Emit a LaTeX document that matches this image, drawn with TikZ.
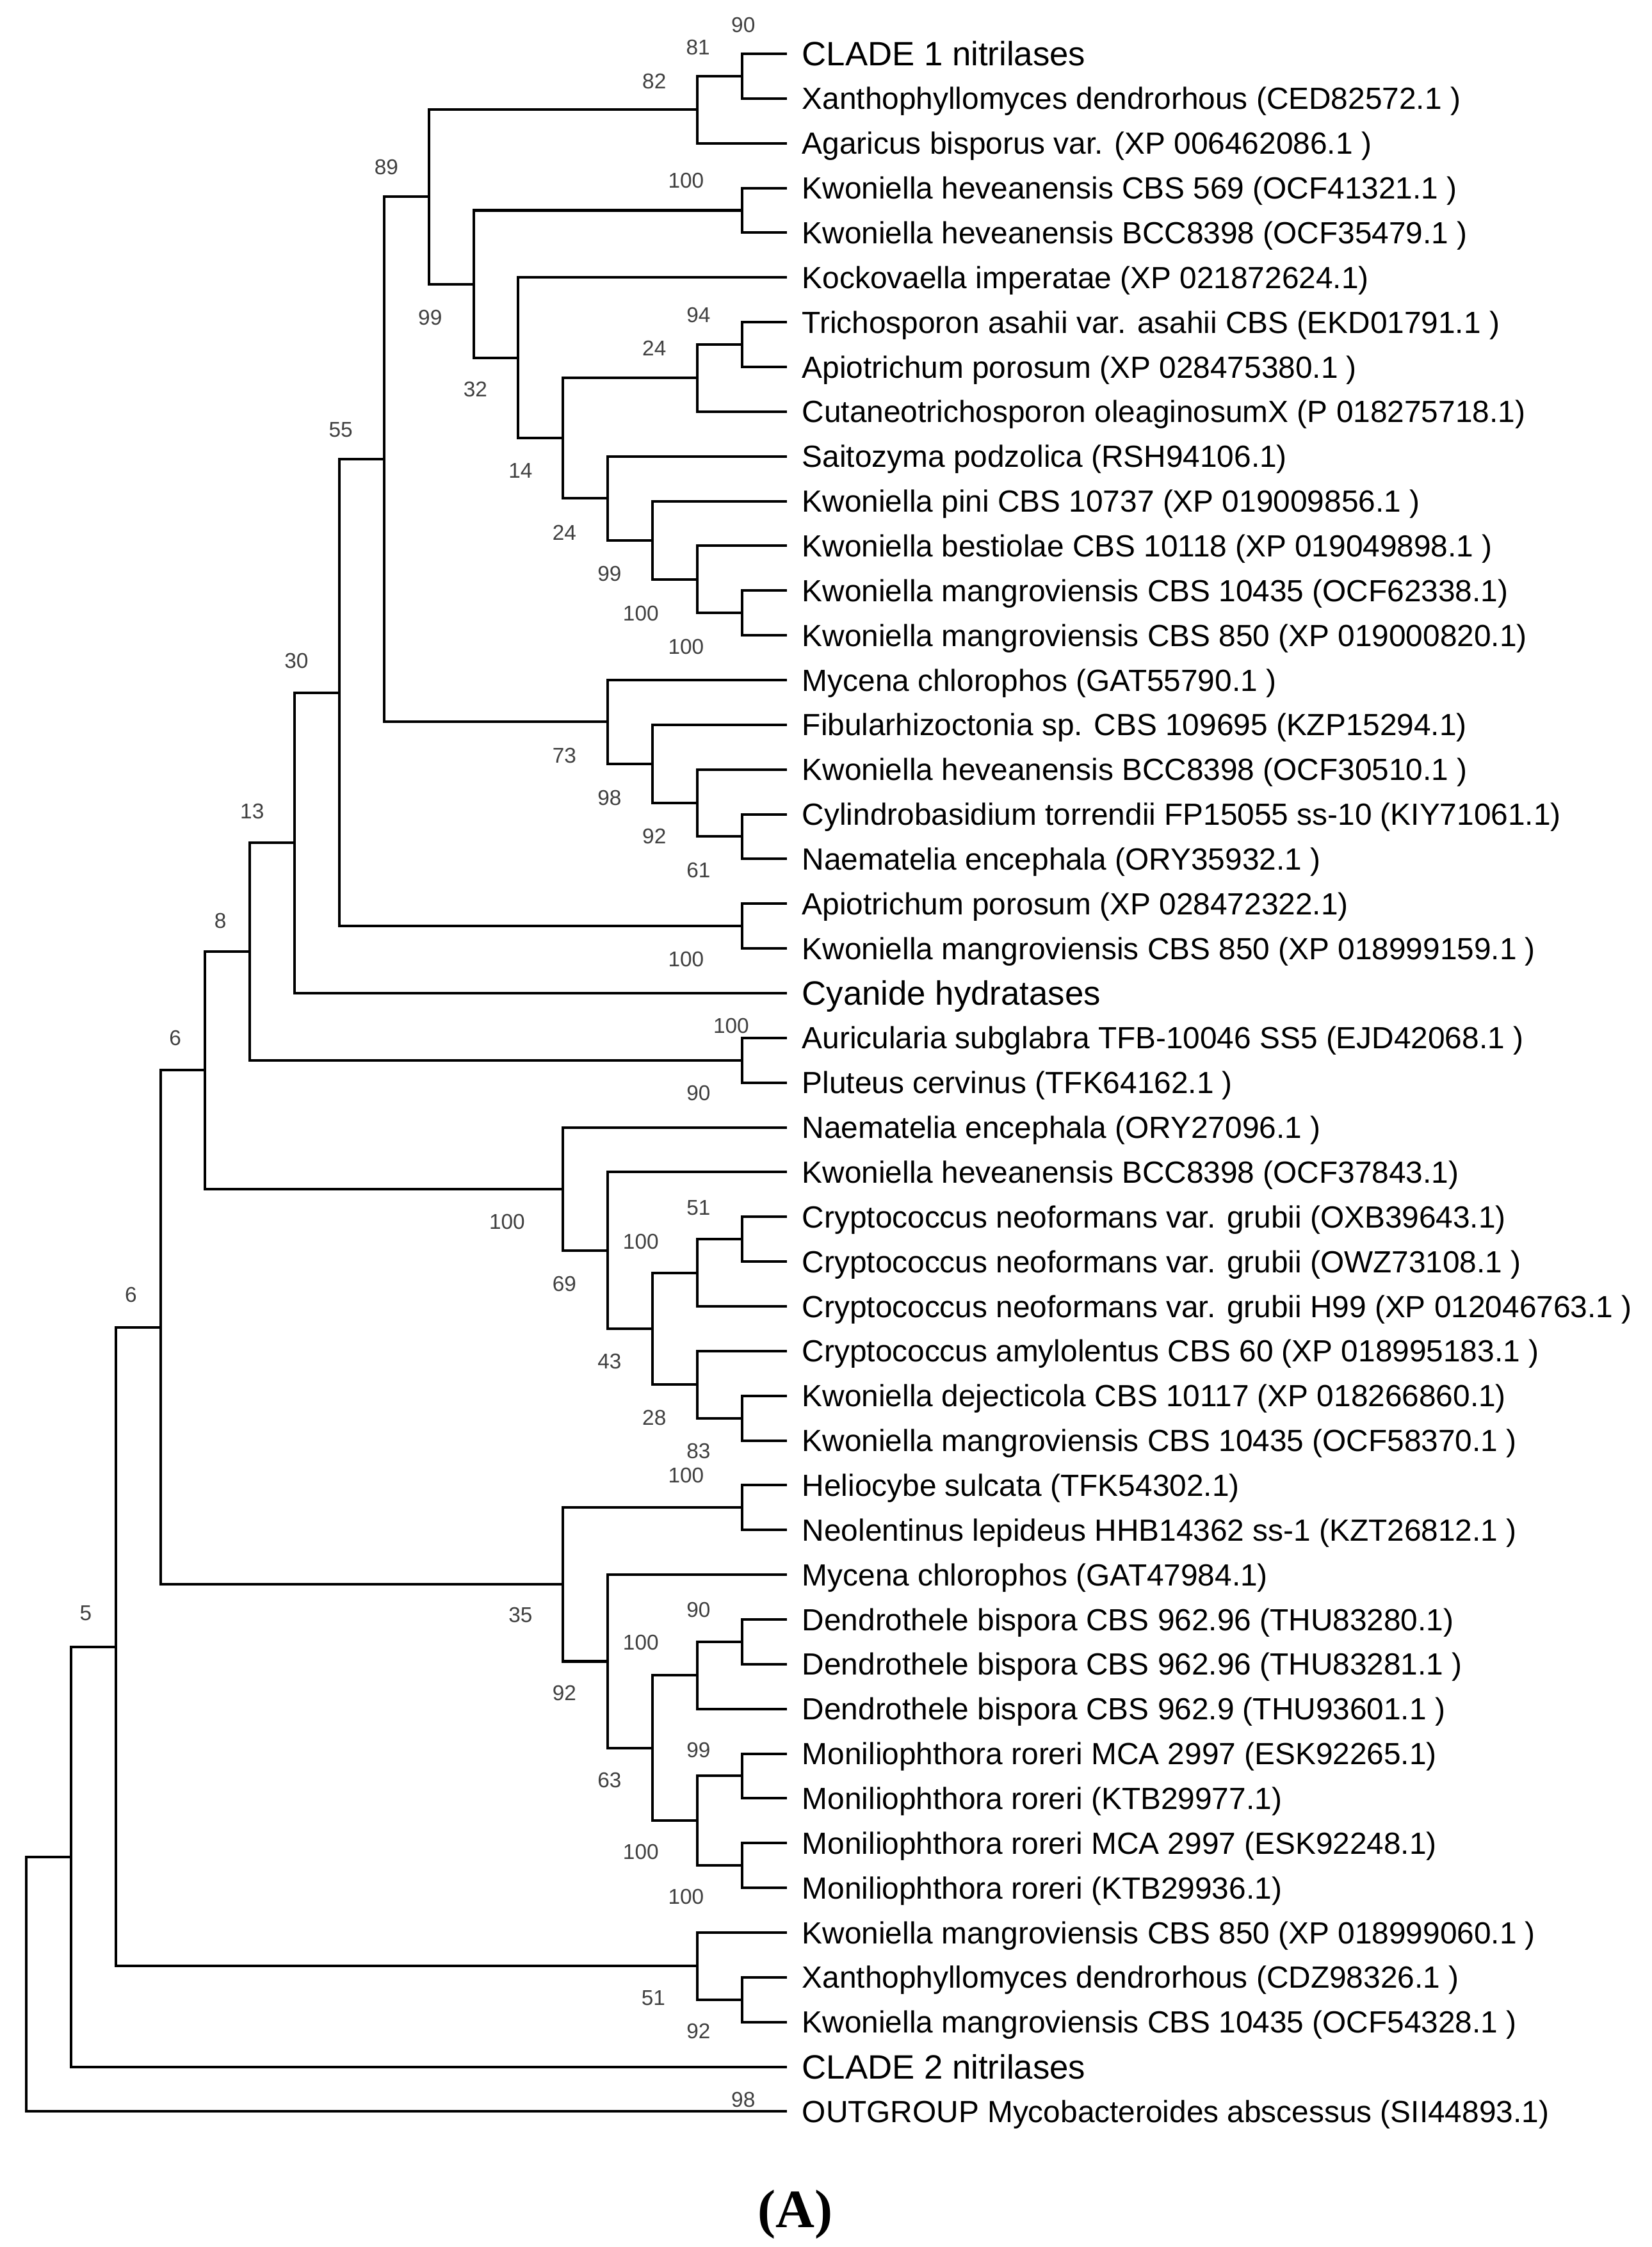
\documentclass[tikz,border=0pt]{standalone}
\usepackage{fontspec}
\setmainfont{Liberation Sans}
\newfontfamily\capfont{Liberation Serif}
\definecolor{BootGray}{HTML}{404040}

\tikzset{
  branch/.style={line width=1.15pt},
  leaf/.style={anchor=west, inner xsep=6.9pt, inner ysep=0pt, outer sep=0pt,
    text height=9.74pt, text depth=0pt, font=\fontsize{13.6}{16}\selectfont},
  group/.style={leaf, text height=10.74pt, font=\fontsize{15}{18}\selectfont},
  boot/.style={inner sep=0pt, text=BootGray, font=\fontsize{9.5}{11}\selectfont}
}

\begin{document}
\begin{tikzpicture}[x=6.985mm, y=-6.985mm]
  \path[use as bounding box, fill=white] (-0.587,-1.2026) rectangle (36.335,49.03);

  % leaves
  \node[group] (L0) at (17,0) {CLADE 1 nitrilases};
  \node[leaf] (L1) at (17,1) {Xanthophyllomyces dendrorhous (CED82572.1 )};
  \node[leaf] (L2) at (17,2) {Agaricus bisporus var. (XP 006462086.1 )};
  \node[leaf] (L3) at (17,3) {Kwoniella heveanensis CBS 569 (OCF41321.1 )};
  \node[leaf] (L4) at (17,4) {Kwoniella heveanensis BCC8398 (OCF35479.1 )};
  \node[leaf] (L5) at (17,5) {Kockovaella imperatae (XP 021872624.1)};
  \node[leaf] (L6) at (17,6) {Trichosporon asahii var. asahii CBS (EKD01791.1 )};
  \node[leaf] (L7) at (17,7) {Apiotrichum porosum (XP 028475380.1 )};
  \node[leaf] (L8) at (17,8) {Cutaneotrichosporon oleaginosumX (P 018275718.1)};
  \node[leaf] (L9) at (17,9) {Saitozyma podzolica (RSH94106.1)};
  \node[leaf] (L10) at (17,10) {Kwoniella pini CBS 10737 (XP 019009856.1 )};
  \node[leaf] (L11) at (17,11) {Kwoniella bestiolae CBS 10118 (XP 019049898.1 )};
  \node[leaf] (L12) at (17,12) {Kwoniella mangroviensis CBS 10435 (OCF62338.1)};
  \node[leaf] (L13) at (17,13) {Kwoniella mangroviensis CBS 850 (XP 019000820.1)};
  \node[leaf] (L14) at (17,14) {Mycena chlorophos (GAT55790.1 )};
  \node[leaf] (L15) at (17,15) {Fibularhizoctonia sp. CBS 109695 (KZP15294.1)};
  \node[leaf] (L16) at (17,16) {Kwoniella heveanensis BCC8398 (OCF30510.1 )};
  \node[leaf] (L17) at (17,17) {Cylindrobasidium torrendii FP15055 ss-10 (KIY71061.1)};
  \node[leaf] (L18) at (17,18) {Naematelia encephala (ORY35932.1 )};
  \node[leaf] (L19) at (17,19) {Apiotrichum porosum (XP 028472322.1)};
  \node[leaf] (L20) at (17,20) {Kwoniella mangroviensis CBS 850 (XP 018999159.1 )};
  \node[group] (L21) at (17,21) {Cyanide hydratases};
  \node[leaf] (L22) at (17,22) {Auricularia subglabra TFB-10046 SS5 (EJD42068.1 )};
  \node[leaf] (L23) at (17,23) {Pluteus cervinus (TFK64162.1 )};
  \node[leaf] (L24) at (17,24) {Naematelia encephala (ORY27096.1 )};
  \node[leaf] (L25) at (17,25) {Kwoniella heveanensis BCC8398 (OCF37843.1)};
  \node[leaf] (L26) at (17,26) {Cryptococcus neoformans var. grubii (OXB39643.1)};
  \node[leaf] (L27) at (17,27) {Cryptococcus neoformans var. grubii (OWZ73108.1 )};
  \node[leaf] (L28) at (17,28) {Cryptococcus neoformans var. grubii H99 (XP 012046763.1 )};
  \node[leaf] (L29) at (17,29) {Cryptococcus amylolentus CBS 60 (XP 018995183.1 )};
  \node[leaf] (L30) at (17,30) {Kwoniella dejecticola CBS 10117 (XP 018266860.1)};
  \node[leaf] (L31) at (17,31) {Kwoniella mangroviensis CBS 10435 (OCF58370.1 )};
  \node[leaf] (L32) at (17,32) {Heliocybe sulcata (TFK54302.1)};
  \node[leaf] (L33) at (17,33) {Neolentinus lepideus HHB14362 ss-1 (KZT26812.1 )};
  \node[leaf] (L34) at (17,34) {Mycena chlorophos (GAT47984.1)};
  \node[leaf] (L35) at (17,35) {Dendrothele bispora CBS 962.96 (THU83280.1)};
  \node[leaf] (L36) at (17,36) {Dendrothele bispora CBS 962.96 (THU83281.1 )};
  \node[leaf] (L37) at (17,37) {Dendrothele bispora CBS 962.9 (THU93601.1 )};
  \node[leaf] (L38) at (17,38) {Moniliophthora roreri MCA 2997 (ESK92265.1)};
  \node[leaf] (L39) at (17,39) {Moniliophthora roreri (KTB29977.1)};
  \node[leaf] (L40) at (17,40) {Moniliophthora roreri MCA 2997 (ESK92248.1)};
  \node[leaf] (L41) at (17,41) {Moniliophthora roreri (KTB29936.1)};
  \node[leaf] (L42) at (17,42) {Kwoniella mangroviensis CBS 850 (XP 018999060.1 )};
  \node[leaf] (L43) at (17,43) {Xanthophyllomyces dendrorhous (CDZ98326.1 )};
  \node[leaf] (L44) at (17,44) {Kwoniella mangroviensis CBS 10435 (OCF54328.1 )};
  \node[group] (L45) at (17,45) {CLADE 2 nitrilases};
  \node[leaf] (L46) at (17,46) {OUTGROUP Mycobacteroides abscessus (SII44893.1)};

  % inner nodes
  \coordinate (nA) at (16,0.5);
  \coordinate (nB) at (15,1.25);
  \coordinate (nC) at (16,3.5);
  \coordinate (nD) at (16,6.5);
  \coordinate (nE) at (15,7.25);
  \coordinate (nF) at (16,12.5);
  \coordinate (nG) at (15,11.75);
  \coordinate (nH) at (14,10.875);
  \coordinate (nI) at (13,9.9375);
  \coordinate (nJ) at (12,8.594);
  \coordinate (nK) at (11,6.797);
  \coordinate (nL) at (10,5.148);
  \coordinate (nM) at (9,3.199);
  \coordinate (nN) at (16,17.5);
  \coordinate (nO) at (15,16.75);
  \coordinate (nP) at (14,15.875);
  \coordinate (nQ) at (13,14.9375);
  \coordinate (nR) at (8,9.068);
  \coordinate (nS) at (16,19.5);
  \coordinate (nT) at (7,14.284);
  \coordinate (nU) at (6,17.642);
  \coordinate (nV) at (16,22.5);
  \coordinate (nW) at (5,20.071);
  \coordinate (nX) at (16,26.5);
  \coordinate (nY) at (15,27.25);
  \coordinate (nZ) at (16,30.5);
  \coordinate (nAA) at (15,29.75);
  \coordinate (nAB) at (14,28.5);
  \coordinate (nAC) at (13,26.75);
  \coordinate (nAD) at (12,25.375);
  \coordinate (nAE) at (4,22.723);
  \coordinate (nAF) at (16,32.5);
  \coordinate (nAG) at (16,35.5);
  \coordinate (nAH) at (15,36.25);
  \coordinate (nAI) at (16,38.5);
  \coordinate (nAJ) at (16,40.5);
  \coordinate (nAK) at (15,39.5);
  \coordinate (nAL) at (14,37.875);
  \coordinate (nAM) at (13,35.938);
  \coordinate (nAN) at (12,34.219);
  \coordinate (nAO) at (3,28.471);
  \coordinate (nAP) at (16,43.5);
  \coordinate (nAQ) at (15,42.75);
  \coordinate (nAR) at (2,35.61);
  \coordinate (nAS) at (1,40.305);
  \coordinate (nAT) at (0,43.153);

  % branches
  \foreach \p/\c in {nA/L0, nA/L1, nB/nA, nB/L2, nC/L3, nC/L4, nD/L6, nD/L7,
      nE/nD, nE/L8, nF/L12, nF/L13, nG/L11, nG/nF, nH/L10, nH/nG, nI/L9, nI/nH,
      nJ/nE, nJ/nI, nK/L5, nK/nJ, nL/nC, nL/nK, nM/nB, nM/nL,
      nN/L17, nN/L18, nO/L16, nO/nN, nP/L15, nP/nO, nQ/L14, nQ/nP, nR/nM, nR/nQ,
      nS/L19, nS/L20, nT/nR, nT/nS, nU/nT, nU/L21, nV/L22, nV/L23, nW/nU, nW/nV,
      nX/L26, nX/L27, nY/nX, nY/L28, nZ/L30, nZ/L31, nAA/L29, nAA/nZ,
      nAB/nY, nAB/nAA, nAC/L25, nAC/nAB, nAD/L24, nAD/nAC, nAE/nW, nAE/nAD,
      nAF/L32, nAF/L33, nAG/L35, nAG/L36, nAH/nAG, nAH/L37, nAI/L38, nAI/L39,
      nAJ/L40, nAJ/L41, nAK/nAI, nAK/nAJ, nAL/nAH, nAL/nAK, nAM/L34, nAM/nAL,
      nAN/nAF, nAN/nAM, nAO/nAE, nAO/nAN, nAP/L43, nAP/L44, nAQ/L42, nAQ/nAP,
      nAR/nAO, nAR/nAQ, nAS/nAR, nAS/L45, nAT/nAS, nAT/L46}
    \draw[branch] (\p) |- (\c);

  % bootstrap values
  \foreach \x/\y/\v [count=\i] in {16.03/-0.65/90, 15.02/-0.14/81, 14.04/0.61/82,
      8.05/2.53/89, 14.75/2.84/100, 9.03/5.90/99, 15.03/5.84/94, 14.04/6.58/24,
      10.04/7.50/32, 7.03/8.40/55, 11.05/9.32/14, 12.03/10.70/24, 13.04/11.62/99,
      13.74/12.51/100, 14.75/13.26/100, 6.04/13.57/30, 12.03/15.69/73,
      13.04/16.64/98, 5.05/16.93/13, 14.04/17.49/92, 15.03/18.25/61, 4.34/19.38/8,
      14.75/20.24/100, 15.76/21.73/100, 3.33/22.00/6, 15.03/23.24/90,
      15.03/25.80/51, 10.75/26.11/100, 13.74/26.55/100, 12.03/27.50/69,
      2.34/27.74/6, 13.04/29.23/43, 14.04/30.49/28, 15.03/31.24/83,
      14.75/31.78/100, 15.03/34.79/90, 1.33/34.86/5, 11.05/34.90/35,
      13.74/35.52/100, 12.03/36.64/92, 15.03/37.92/99, 13.04/38.59/63,
      13.74/40.20/100, 14.75/41.20/100, 14.02/43.46/51, 15.03/44.21/92,
      16.03/45.74/98}
    \node[boot] (bs\i) at (\x,\y) {\v};

  \node[font=\capfont\bfseries\fontsize{24}{28}\selectfont, inner sep=0pt] (panel) at (17.19,48.30) {(A)};
\end{tikzpicture}
\end{document}
